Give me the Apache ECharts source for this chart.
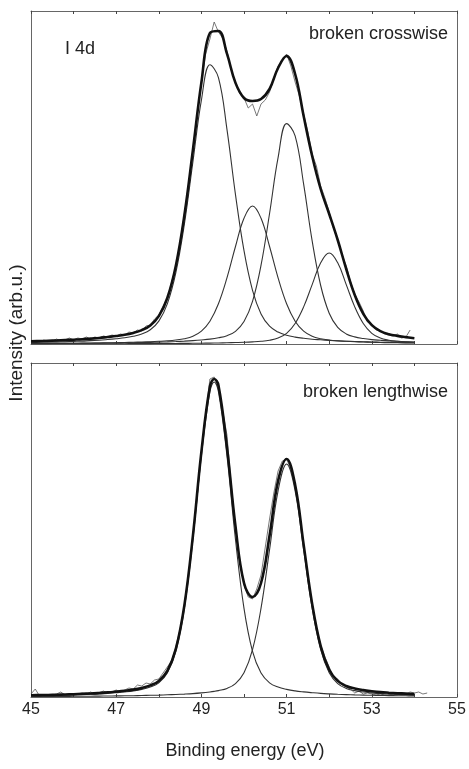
<!DOCTYPE html>
<html>
<head>
<meta charset="utf-8">
<script src="https://cdn.jsdelivr.net/npm/echarts@6/dist/echarts.min.js"></script>
<style>
html,body{margin:0;padding:0;background:#fff;}
#chart{width:469px;height:769px;}
</style>
</head>
<body>
<div id="chart"></div>
<script>
// ---------- data (binding energy in eV, intensity in arb. units) ----------
const xTicks = [45, 47, 49, 51, 53, 55];

const energiesTop = [45.0,45.2,45.4,45.6,45.8,46.0,46.2,46.4,46.6,46.8,
  47.0,47.2,47.4,47.6,47.8,48.0,48.2,48.4,48.6,48.8,
  49.0,49.2,49.4,49.6,49.8,50.0,50.2,50.4,50.6,50.8,
  51.0,51.2,51.4,51.6,51.8,52.0,52.2,52.4,52.6,52.8,
  53.0,53.2,53.4,53.6,53.8,54.0];

const topPeak1 = [1.5,1.7,1.9,2.1,2.3,2.6,2.9,3.4,3.8,4.5,
  5.3,6.2,7.7,10.0,14.2,22.9,40.1,71.3,119.8,182,
  243.8,279.3,266.4,214.7,149.4,93.3,53.7,30.1,17.8,11.9,
  8.7,6.9,5.7,4.8,4.2,3.6,3.1,2.8,2.5,2.2,
  2.0,1.8,1.6,1.5,1.4,1.2];
const topPeak2 = [0.51,0.55,0.6,0.65,0.71,0.78,0.84,0.94,1.05,1.2,
  1.3,1.5,1.7,2.0,2.3,2.7,3.2,4.0,5.3,7.8,
  12.9,22.8,40.2,66.1,97.5,125.8,138,125.8,97.5,66.1,
  40.2,22.8,12.9,7.8,5.3,4.0,3.2,2.7,2.3,2.0,
  1.7,1.5,1.3,1.2,1.05,0.94];
const topPeak3 = [0.49,0.52,0.56,0.6,0.65,0.7,0.76,0.82,0.9,0.98,
  1.08,1.19,1.32,1.48,1.66,1.88,2.15,2.47,2.87,3.38,
  4.04,4.86,6.2,8.3,12.7,22.4,42.6,78.8,130.5,186.3,
  220.4,208.1,159.8,103.1,58.5,30.8,16.6,10.1,7.1,5.5,
  4.4,3.7,3.1,2.7,2.3,2.0];
const topPeak4 = [0.15,0.16,0.17,0.18,0.19,0.2,0.22,0.23,0.25,0.27,
  0.29,0.32,0.34,0.38,0.41,0.45,0.5,0.56,0.62,0.7,
  0.8,0.91,1.05,1.23,1.45,1.7,2.1,2.7,3.8,5.9,
  10.7,20.5,37.1,59.4,81.2,91,81.2,59.4,37.1,20.5,
  10.7,5.9,3.8,2.7,2.1,1.7];
const topEnvelope = [2.7,2.9,3.2,3.5,3.9,4.3,4.7,5.4,6.0,7.0,
  8.0,9.2,11.1,13.9,18.6,27.9,46.0,78.3,128.6,193.9,
  261.5,311,313,290.3,261.1,246,243,245,255,276,
  288,270,228,188,155,130,104,75,49,30.2,
  18.8,12.9,9.8,8.1,6.9,5.8];

const rawEnergiesTop = [45.0,45.1,45.2,45.3,45.4,45.5,45.6,45.7,45.8,45.9,
  46.0,46.1,46.2,46.3,46.4,46.5,46.6,46.7,46.8,46.9,
  47.0,47.1,47.2,47.3,47.4,47.5,47.6,47.7,47.8,47.9,
  48.0,48.1,48.2,48.3,48.4,48.5,48.6,48.7,48.8,48.9,
  49.0,49.1,49.2,49.3,49.4,49.5,49.6,49.7,49.8,49.9,
  50.0,50.1,50.2,50.3,50.4,50.5,50.6,50.7,50.8,50.9,
  51.0,51.1,51.2,51.3,51.4,51.5,51.6,51.7,51.8,51.9,
  52.0,52.1,52.2,52.3,52.4,52.5,52.6,52.7,52.8,52.9,
  53.0,53.1,53.2,53.3,53.4,53.5,53.6,53.7,53.8,53.9];
const rawTop = [2,3,2,4,3,3,5,3,4,6,
  4,6,5,7,5,7,6,8,7,9,
  8,10,9,12,11,14,13,18,19,25,
  29,38,45,62,77,102,130,160,195,228,
  263,290,305,322,312,306,293,274,262,250,
  246,236,240,228,240,244,252,266,278,284,
  290,278,262,248,230,212,190,178,158,146,
  132,116,104,90,78,62,50,42,33,22,
  20,14,13,10,9,8,10,6,7,14];

const energiesBottom = [45.0,45.2,45.4,45.6,45.8,46.0,46.2,46.4,46.6,46.8,
  47.0,47.2,47.4,47.6,47.8,48.0,48.2,48.4,48.6,48.8,
  49.0,49.2,49.3,49.4,49.6,49.8,50.0,50.2,50.4,50.6,50.8,
  51.0,51.2,51.4,51.6,51.8,52.0,52.2,52.4,52.6,52.8,
  53.0,53.2,53.4,53.6,53.8,54.0];
const bottomPeak1 = [1.3,1.4,1.5,1.7,1.9,2.1,2.4,2.7,3.1,3.6,
  4.3,5.1,6.1,7.6,9.9,14.2,23.9,45.6,88.6,157.5,
  241.3,305.4,315,305.4,241.3,157.5,88.6,45.6,23.9,14.2,9.9,
  7.6,6.1,5.1,4.3,3.6,3.1,2.7,2.4,2.1,1.9,
  1.7,1.5,1.4,1.3,1.2,1.1];
const bottomPeak2 = [0.47,0.5,0.54,0.59,0.64,0.69,0.75,0.82,0.89,0.98,
  1.1,1.2,1.3,1.5,1.7,1.9,2.2,2.5,2.9,3.4,
  4.1,5.0,5.6,6.4,8.6,13.4,24.2,47.3,88.8,147.3,206.2,
  233,206.2,147.3,88.8,47.3,24.2,13.4,8.6,6.4,5.0,
  4.1,3.4,2.9,2.5,2.2,1.9];
const bottomEnvelope = [1.8,1.9,2.0,2.3,2.5,2.8,3.2,3.5,4.0,4.6,
  5.4,6.3,7.4,9.1,11.6,16.1,26.1,48.1,91.5,160.9,
  245.4,310.4,318,311.8,249.9,170.9,114,100,114,161.5,216.1,
  238,212.3,152.4,93.1,50.9,27.3,16.1,11.0,8.5,6.9,
  5.8,4.9,4.3,3.8,3.4,3.0];

const rawEnergiesBottom = [45.0,45.1,45.2,45.3,45.4,45.5,45.6,45.7,45.8,45.9,
  46.0,46.1,46.2,46.3,46.4,46.5,46.6,46.7,46.8,46.9,
  47.0,47.1,47.2,47.3,47.4,47.5,47.6,47.7,47.8,47.9,
  48.0,48.1,48.2,48.3,48.4,48.5,48.6,48.7,48.8,48.9,
  49.0,49.1,49.2,49.3,49.4,49.5,49.6,49.7,49.8,49.9,
  50.0,50.1,50.2,50.3,50.4,50.5,50.6,50.7,50.8,50.9,
  51.0,51.1,51.2,51.3,51.4,51.5,51.6,51.7,51.8,51.9,
  52.0,52.1,52.2,52.3,52.4,52.5,52.6,52.7,52.8,52.9,
  53.0,53.1,53.2,53.3,53.4,53.5,53.6,53.7,53.8,53.9,
  54.0,54.1,54.2,54.3];
const rawBottom = [3,8,1,2,1,2,3,5,2,3,
  2,3,4,3,5,3,4,6,4,5,
  7,5,7,9,8,12,11,14,13,17,
  18,24,30,36,50,68,92,124,160,200,
  245,282,318,320,310,286,262,212,170,136,
  112,100,98,108,122,150,178,204,226,236,
  238,228,210,184,152,118,92,70,52,40,
  30,20,18,12,10,8,4,6,3,4,
  3,2,3,2,2,3,2,4,3,5,
  4,5,3,4];

// ---------- chart ----------
const pairs = (xs, ys) => xs.map((x, i) => [x, ys[i]]);
const axisColor = '#666';
const textColor = '#222';
const fontFam = '"Liberation Sans", Arial, Helvetica, sans-serif';

function xAxisDef(gridIndex, position, showLabels) {
  return {
    type: 'value', gridIndex: gridIndex, position: position,
    min: 45, max: 55, interval: 1,
    axisLine: { show: true, onZero: false, lineStyle: { color: axisColor, width: 1 } },
    axisTick: { show: true, inside: true, length: 3, lineStyle: { color: '#444', width: 1 } },
    axisLabel: {
      show: showLabels, margin: 5, fontSize: 16, color: textColor, fontFamily: fontFam,
      formatter: v => (xTicks.indexOf(v) >= 0 ? String(v) : '')
    },
    splitLine: { show: false }
  };
}
function yAxisDef(gridIndex, position, max) {
  return {
    type: 'value', gridIndex: gridIndex, position: position,
    min: 0, max: max,
    axisLine: { show: true, onZero: false, lineStyle: { color: axisColor, width: 1 } },
    axisTick: { show: false }, axisLabel: { show: false }, splitLine: { show: false }
  };
}
function line(name, xi, yi, data, width, color, smooth) {
  return {
    name: name, type: 'line', xAxisIndex: xi, yAxisIndex: yi,
    data: data, showSymbol: false, symbol: 'none', smooth: smooth,
    lineStyle: { width: width, color: color }, animation: false, z: width > 2 ? 5 : 3
  };
}

const chart = echarts.init(document.getElementById('chart'), null, { renderer: 'canvas' });
chart.setOption({
  backgroundColor: '#fff',
  animation: false,
  grid: [
    { left: 31, top: 11, width: 426, height: 333 },
    { left: 31, top: 363, width: 426, height: 334 }
  ],
  xAxis: [
    xAxisDef(0, 'bottom', false),
    xAxisDef(0, 'top', false),
    xAxisDef(1, 'bottom', true),
    xAxisDef(1, 'top', false)
  ],
  yAxis: [
    yAxisDef(0, 'left', 333),
    yAxisDef(0, 'right', 333),
    yAxisDef(1, 'left', 334),
    yAxisDef(1, 'right', 334)
  ],
  series: [
    line('raw crosswise', 0, 0, pairs(rawEnergiesTop, rawTop), 0.8, '#555', false),
    line('peak 1', 0, 0, pairs(energiesTop, topPeak1), 1.1, '#333', 0.4),
    line('peak 2', 0, 0, pairs(energiesTop, topPeak2), 1.1, '#333', 0.4),
    line('peak 3', 0, 0, pairs(energiesTop, topPeak3), 1.1, '#333', 0.4),
    line('peak 4', 0, 0, pairs(energiesTop, topPeak4), 1.1, '#333', 0.4),
    line('fit crosswise', 0, 0, pairs(energiesTop, topEnvelope), 2.6, '#111', 0.4),
    line('raw lengthwise', 2, 2, pairs(rawEnergiesBottom, rawBottom), 0.8, '#555', false),
    line('peak 1 (l)', 2, 2, pairs(energiesBottom, bottomPeak1), 1.1, '#333', 0.4),
    line('peak 2 (l)', 2, 2, pairs(energiesBottom, bottomPeak2), 1.1, '#333', 0.4),
    line('fit lengthwise', 2, 2, pairs(energiesBottom, bottomEnvelope), 2.6, '#111', 0.4)
  ],
  graphic: [
    { type: 'text', x: 65, y: 49, style: { text: 'I 4d', font: '18px ' + fontFam, fill: textColor, textAlign: 'left', textVerticalAlign: 'middle' } },
    { type: 'text', x: 448, y: 34, style: { text: 'broken crosswise', font: '18px ' + fontFam, fill: textColor, textAlign: 'right', textVerticalAlign: 'middle' } },
    { type: 'text', x: 448, y: 392, style: { text: 'broken lengthwise', font: '18px ' + fontFam, fill: textColor, textAlign: 'right', textVerticalAlign: 'middle' } },
    { type: 'text', x: 245, y: 751, style: { text: 'Binding energy (eV)', font: '18px ' + fontFam, fill: textColor, textAlign: 'center', textVerticalAlign: 'middle' } },
    { type: 'text', x: 17, y: 333, rotation: Math.PI / 2, style: { text: 'Intensity (arb.u.)', font: '19px ' + fontFam, fill: textColor, textAlign: 'center', textVerticalAlign: 'middle' } }
  ]
});
</script>
</body>
</html>
